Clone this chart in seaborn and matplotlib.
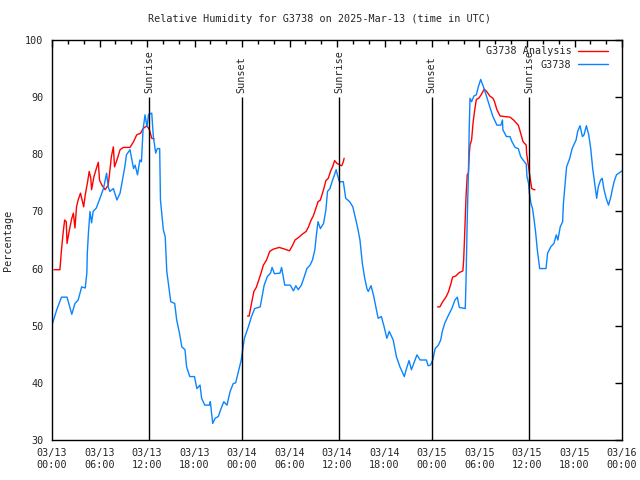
import numpy as np
import pandas as pd
import seaborn as sns
import matplotlib.pyplot as plt

# hours since 03/13 00:00 UTC
blue_hours = [0.0, 0.6, 1.2, 1.9, 2.5, 2.9, 3.3, 3.75, 4.2, 4.4,
              4.46, 4.6, 4.8, 5.0, 5.2, 5.6, 6.06, 6.5, 6.9, 7.1,
              7.3, 7.75, 8.2, 8.6, 8.9, 9.2, 9.4, 9.85, 10.3, 10.5,
              10.8, 11.1, 11.3, 11.5, 11.75, 12.0, 12.2, 12.6, 12.8, 13.1,
              13.3, 13.6, 13.7, 14.06, 14.3, 14.5, 14.8, 15.0, 15.5, 15.75,
              16.1, 16.4, 16.8, 17.0, 17.4, 18.0, 18.3, 18.7, 18.9, 19.3,
              19.9, 20.0, 20.3, 20.6, 21.0, 21.3, 21.7, 22.1, 22.5, 22.9,
              23.2, 23.5, 23.9, 24.3, 24.8, 25.2, 25.6, 26.3, 26.5, 26.8,
              27.2, 27.6, 27.8, 28.1, 28.8, 29.0, 29.4, 30.1, 30.5, 30.8,
              31.1, 31.5, 31.8, 32.2, 32.6, 32.9, 33.2, 33.4, 33.6, 33.9,
              34.3, 34.6, 34.8, 35.1, 35.45, 35.9, 36.0, 36.3, 36.8, 37.1,
              37.6, 38.0, 38.3, 38.6, 38.9, 39.2, 39.5, 39.8, 39.95, 40.3,
              40.6, 40.9, 41.2, 41.6, 41.9, 42.3, 42.6, 43.1, 43.5, 43.95,
              44.5, 44.8, 45.1, 45.4, 45.7, 46.1, 46.5, 47.3, 47.5, 47.8,
              48.1, 48.4, 48.8, 49.1, 49.3, 49.6, 50.1, 50.5, 50.9, 51.2,
              51.45, 52.2, 52.3, 52.45, 52.6, 52.7, 52.8, 53.0, 53.3, 53.6,
              53.85, 54.15, 54.5, 54.9, 55.3, 55.7, 56.2, 56.7, 56.9, 56.95,
              57.4, 57.85, 58.1, 58.5, 58.9, 59.2, 59.5, 59.9, 60.0, 60.2,
              60.3, 60.5, 60.7, 60.9, 61.1, 61.3, 61.6, 62.4, 62.6, 63.0,
              63.4, 63.7, 63.9, 64.2, 64.5, 64.6, 64.9, 65.0, 65.4, 65.7,
              66.2, 66.4, 66.7, 67.0, 67.2, 67.5, 67.8, 68.05, 68.3, 68.6,
              68.8, 69.0, 69.3, 69.5, 69.7, 70.0, 70.3, 70.6, 70.8, 71.0,
              71.3, 72.0]
blue_rh = [50.1, 52.8, 55.0, 55.0, 52.0, 53.9, 54.5, 56.8, 56.6, 59.2,
           62.7, 66.2, 70.0, 68.0, 70.0, 70.6, 72.3, 74.0, 76.7, 74.3,
           73.5, 74.0, 72.0, 73.2, 75.5, 77.8, 79.9, 80.8, 77.5, 78.1,
           76.4, 79.0, 78.7, 84.3, 86.9, 84.8, 87.0, 87.2, 83.1, 80.2,
           81.0, 81.0, 72.0, 66.8, 65.6, 59.5, 56.3, 54.2, 53.9, 51.0,
           48.7, 46.3, 45.8, 42.8, 41.1, 41.1, 39.0, 39.6, 37.3, 36.1,
           36.1, 36.7, 32.9, 33.8, 34.1, 35.3, 36.7, 36.1, 38.5, 39.9,
           40.0, 41.7, 44.0, 47.8, 49.8, 51.6, 53.0, 53.3, 54.8, 57.1,
           58.6, 59.2, 60.2, 59.1, 59.2, 60.2, 57.1, 57.1, 56.1, 57.0,
           56.3, 57.1, 58.3, 60.0, 60.6, 61.5, 63.3, 65.9, 68.2, 67.0,
           67.9, 70.3, 73.5, 74.0, 75.5, 77.3, 76.7, 75.2, 75.2, 72.3,
           71.7, 70.8, 69.0, 67.2, 65.0, 60.9, 58.3, 56.4, 56.0, 57.0,
           55.4, 53.3, 51.3, 51.6, 50.1, 47.8, 49.0, 47.5, 44.6, 42.8,
           41.1, 42.6, 43.9, 42.3, 43.4, 44.9, 44.0, 44.0, 43.0, 43.1,
           44.0, 46.0, 46.6, 47.5, 49.0, 50.4, 51.9, 53.0, 54.5, 55.0,
           53.2, 53.0, 58.0, 68.5, 76.7, 84.3, 89.8, 89.2, 90.2, 90.4,
           91.8, 93.1, 91.8, 90.1, 88.3, 86.6, 85.1, 85.1, 86.0, 84.3,
           83.1, 83.1, 82.2, 81.2, 81.0, 79.6, 79.0, 78.3, 76.1, 74.9,
           73.2, 71.4, 70.5, 68.5, 66.2, 63.3, 60.0, 60.0, 62.7, 63.8,
           64.4, 65.9, 65.0, 67.3, 68.2, 71.4, 76.1, 77.8, 79.3, 81.0,
           82.5, 84.0, 85.0, 83.1, 83.4, 85.0, 83.4, 81.0, 77.5, 74.3,
           72.3, 74.3, 75.5, 75.8, 74.0, 72.3, 71.1, 72.6, 74.0, 75.2,
           76.4, 77.1]

# analysis, three runs
red_hours_1 = [0.25, 1.0, 1.2, 1.4, 1.6, 1.8, 1.9, 2.2, 2.5, 2.7,
               2.9, 3.1, 3.3, 3.6, 4.0, 4.2, 4.5, 4.7, 4.9, 5.0,
               5.3, 5.6, 5.85, 6.0, 6.3, 6.7, 7.1, 7.3, 7.5, 7.75,
               7.9, 8.2, 8.6, 9.0, 9.85, 10.3, 10.7, 11.2, 11.5, 12.0,
               12.3, 12.6, 12.9]
red_rh_1 = [59.8, 59.8, 63.3, 66.2, 68.5, 68.2, 64.4, 66.8, 68.8, 69.7,
            67.1, 70.8, 72.0, 73.2, 70.8, 72.9, 75.2, 77.0, 75.8, 73.8,
            76.1, 77.5, 78.6, 75.5, 74.6, 73.8, 74.6, 77.0, 79.6, 81.3,
            77.8, 79.0, 80.8, 81.2, 81.2, 82.2, 83.4, 83.7, 84.5, 85.0,
            84.3, 82.8, 82.7]
red_hours_2 = [24.7, 24.9, 25.2, 25.5, 25.8, 26.05, 26.4, 26.7, 27.1, 27.5,
               27.95, 28.7, 29.4, 30.0, 30.4, 30.7, 31.2, 31.7, 32.1, 32.4,
               32.7, 33.0, 33.3, 33.6, 33.9, 34.3, 34.6, 34.9, 35.2, 35.45,
               35.7, 36.0, 36.4, 36.6, 36.8, 36.9]
red_rh_2 = [51.7, 51.7, 53.9, 56.0, 56.7, 57.7, 59.2, 60.6, 61.5, 63.0,
            63.4, 63.7, 63.4, 63.1, 64.1, 65.0, 65.5, 66.1, 66.5, 67.3,
            68.4, 69.2, 70.4, 71.7, 72.0, 73.8, 75.4, 75.8, 77.1, 77.8,
            78.9, 78.4, 78.1, 78.0, 78.7, 79.3]
red_hours_3 = [48.7, 49.0, 49.35, 49.8, 50.1, 50.4, 50.6, 51.0, 51.45, 51.9,
               52.0, 52.1, 52.2, 52.3, 52.45, 52.6, 52.7, 52.8, 53.0, 53.2,
               53.4, 53.6, 53.9, 54.2, 54.6, 54.9, 55.3, 55.7, 55.9, 56.2,
               56.6, 57.2, 57.85, 58.3, 58.7, 58.9, 59.2, 59.5, 59.9, 59.95,
               60.2, 60.4, 60.6, 60.9, 61.0]
red_rh_3 = [53.3, 53.3, 54.2, 55.1, 56.0, 57.4, 58.5, 58.7, 59.3, 59.6,
            61.5, 65.0, 68.8, 72.6, 76.4, 76.7, 79.9, 81.6, 82.5, 85.7,
            87.8, 89.6, 89.8, 90.4, 91.4, 91.0, 90.2, 89.8, 89.2, 87.8,
            86.7, 86.6, 86.5, 86.0, 85.4, 85.1, 83.7, 82.2, 81.6, 80.2,
            77.8, 75.8, 74.0, 73.8, 73.8]

sun_hours = [12.3, 23.95, 36.3, 47.95, 60.25]
sun_labels = ["Sunrise", "Sunset", "Sunrise", "Sunset", "Sunrise"]

x_ticks = list(range(0, 73, 6))
x_tick_labels = ["03/13\n00:00", "03/13\n06:00", "03/13\n12:00", "03/13\n18:00",
                 "03/14\n00:00", "03/14\n06:00", "03/14\n12:00", "03/14\n18:00",
                 "03/15\n00:00", "03/15\n06:00", "03/15\n12:00", "03/15\n18:00",
                 "03/16\n00:00"]

sns.set_style("white")
plt.rcParams["font.family"] = ["DejaVu Sans Mono"]
fs = 7.3

df_obs = pd.DataFrame({"hour": blue_hours, "rh": blue_rh})
ana_runs = [
    pd.DataFrame({"hour": red_hours_1, "rh": red_rh_1}),
    pd.DataFrame({"hour": red_hours_2, "rh": red_rh_2}),
    pd.DataFrame({"hour": red_hours_3, "rh": red_rh_3}),
]

fig = plt.figure(figsize=(6.4, 4.8), dpi=100)
ax = fig.add_axes([52 / 640, 40 / 480, 570 / 640, 400 / 480])

for i, run in enumerate(ana_runs):
    sns.lineplot(data=run, x="hour", y="rh", estimator=None, color="#ff0000",
                 lw=1.0, ax=ax, label="G3738 Analysis" if i == 0 else None)
sns.lineplot(data=df_obs, x="hour", y="rh", estimator=None,
             color="#0a84ff", lw=1.0, ax=ax, label="G3738")

ax.vlines(sun_hours, 30, 90, color="black", lw=1.0)
for h, lab in zip(sun_hours, sun_labels):
    ax.text(h, 90.8, lab, rotation=90, ha="center", va="bottom", fontsize=fs)

ax.set_xlim(0, 72)
ax.set_ylim(30, 100)
ax.set_xticks(x_ticks)
ax.set_xticklabels(x_tick_labels, fontsize=fs)
ax.set_xticks(list(range(0, 73, 2)), minor=True)
ax.set_yticks(range(30, 101, 10))
ax.tick_params(axis="y", labelsize=fs)
ax.tick_params(which="both", direction="in", top=True, right=True,
               color="black", width=1.0)
ax.tick_params(which="major", length=5, pad=6)
ax.tick_params(which="minor", length=3)
for s in ax.spines.values():
    s.set_color("black")
    s.set_linewidth(1.0)

ax.set_xlabel("")
ax.set_ylabel("Percentage", fontsize=fs, labelpad=9)
fig.suptitle("Relative Humidity for G3738 on 2025-Mar-13 (time in UTC)",
             fontsize=fs, y=0.97)

ax.legend(loc="upper right", bbox_to_anchor=(1 - 8 / 570, 1.0), frameon=False,
          markerfirst=False, fontsize=fs, handlelength=3.0, labelspacing=0.35,
          borderaxespad=0.2, handletextpad=0.6)

fig.savefig("out.png", dpi=100)
plt.close(fig)
